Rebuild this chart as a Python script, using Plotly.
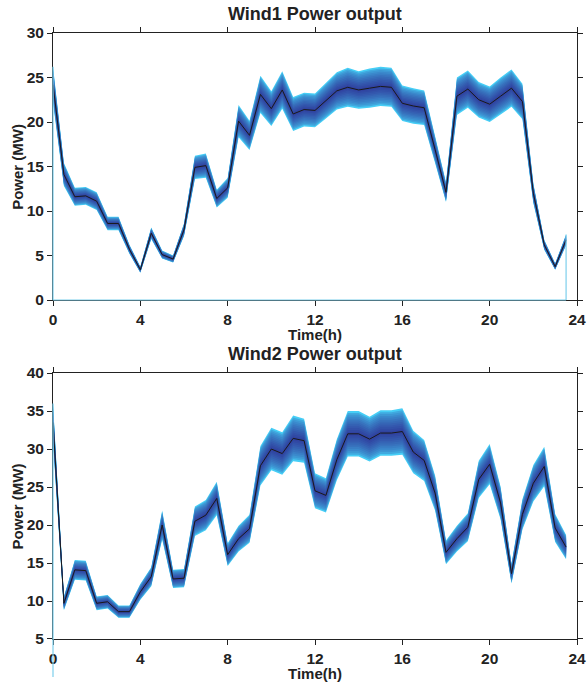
import plotly.graph_objects as go

# ---------------- data ----------------
time_h = [i * 0.5 for i in range(48)]  # 0 .. 23.5 h, half-hour steps

wind1_power = [24.2, 14.1, 11.6, 11.7, 11.1, 8.6, 8.6, 5.7, 3.4, 7.5, 5.1, 4.6,
               7.9, 14.9, 15.1, 11.4, 12.6, 20.1, 18.5, 23.1, 21.5, 23.6, 20.9, 21.4,
               21.3, 22.4, 23.5, 23.9, 23.6, 23.8, 24.0, 23.9, 22.1, 21.8, 21.6, 16.9,
               12.1, 22.9, 23.7, 22.5, 22.0, 22.9, 23.8, 22.3, 12.0, 6.2, 3.75, 6.75]
wind1_spread = [2.0, 1.3, 1.0, 1.0, 1.0, 0.75, 0.75, 0.5, 0.35, 0.65, 0.45, 0.4,
                0.7, 1.3, 1.35, 1.0, 1.1, 1.8, 1.65, 2.1, 1.95, 2.1, 1.9, 1.9,
                1.9, 2.0, 2.1, 2.2, 2.1, 2.2, 2.2, 2.2, 2.0, 2.0, 1.95, 1.5,
                1.1, 2.1, 2.1, 2.0, 2.0, 2.1, 2.1, 2.0, 1.1, 0.55, 0.35, 0.6]

wind2_power = [33.5, 9.7, 14.1, 14.0, 9.7, 9.9, 8.6, 8.6, 11.2, 13.2, 20.0, 12.9,
               13.0, 20.5, 21.3, 23.5, 16.1, 18.2, 19.5, 27.8, 30.0, 29.4, 31.4, 31.1,
               24.5, 23.9, 28.6, 32.0, 32.0, 31.3, 32.1, 32.1, 32.3, 29.6, 28.5, 24.2,
               16.4, 18.2, 19.7, 26.0, 28.0, 22.9, 13.6, 21.4, 25.5, 27.7, 19.6, 17.1]
wind2_spread = [2.5, 0.9, 1.3, 1.3, 0.9, 0.9, 0.8, 0.8, 1.05, 1.25, 1.9, 1.2,
                1.2, 1.95, 2.0, 2.2, 1.5, 1.7, 1.85, 2.6, 2.8, 2.8, 3.0, 2.9,
                2.3, 2.25, 2.7, 3.0, 3.0, 2.95, 3.0, 3.0, 3.05, 2.8, 2.7, 2.3,
                1.55, 1.7, 1.85, 2.45, 2.65, 2.15, 1.3, 2.0, 2.4, 2.6, 1.85, 1.6]

x_ticks = [0, 4, 8, 12, 16, 20, 24]
wind1_yticks = [0, 5, 10, 15, 20, 25, 30]
wind2_yticks = [5, 10, 15, 20, 25, 30, 35, 40]
titles = ["Wind1 Power output", "Wind2 Power output"]
x_label = "Time(h)"
y_label = "Power (MW)"

# ---------------- style ----------------
FONT = "Liberation Sans"
TXT = "#222222"
EDGE = "#7ccfec"
N_LAYERS = 12
OUTER = (70, 206, 246)
INNER = (48, 66, 160)


def layer_color(k):
    t = (k / (N_LAYERS - 1)) ** 0.55
    c = [round(OUTER[j] + (INNER[j] - OUTER[j]) * t) for j in range(3)]
    return f"rgb({c[0]},{c[1]},{c[2]})"


fig = go.Figure()


def add_fan(values, spread, xa, ya):
    for k in range(N_LAYERS):
        f = 1.0 - k / N_LAYERS
        upper = [v + f * s for v, s in zip(values, spread)]
        lower = [v - f * s for v, s in zip(values, spread)]
        fig.add_trace(go.Scatter(
            x=time_h + time_h[::-1], y=upper + lower[::-1],
            fill="toself", fillcolor=layer_color(k), mode="lines",
            line=dict(width=0), hoverinfo="skip", showlegend=False,
            xaxis=xa, yaxis=ya))
    fig.add_trace(go.Scatter(
        x=time_h, y=values, mode="lines",
        line=dict(color="#1a1a1a", width=1.0), showlegend=False,
        xaxis=xa, yaxis=ya))


add_fan(wind1_power, wind1_spread, "x", "y")
add_fan(wind2_power, wind2_spread, "x2", "y2")

# fill-edge artefacts (light blue outlines of the fan patch down to zero)
x_max = x_ticks[-1]
up1_first = wind1_power[0] + wind1_spread[0]
up1_last = wind1_power[-1] + wind1_spread[-1]
y1min, y1max = wind1_yticks[0], wind1_yticks[-1]
y2min, y2max = wind2_yticks[0], wind2_yticks[-1]
up2_first = wind2_power[0] + wind2_spread[0]


def dom(v, lo, hi):
    return (v - lo) / (hi - lo)


shapes = [
    dict(type="line", xref="x domain", yref="y domain", x0=0, x1=0,
         y0=dom(0, y1min, y1max), y1=dom(up1_first, y1min, y1max)),
    dict(type="line", xref="x domain", yref="y domain", x0=0, x1=time_h[-1] / x_max,
         y0=0, y1=0),
    dict(type="line", xref="x domain", yref="y domain",
         x0=time_h[-1] / x_max, x1=time_h[-1] / x_max,
         y0=0, y1=dom(up1_last, y1min, y1max)),
    dict(type="line", xref="x2 domain", yref="y2 domain", x0=0, x1=0,
         y0=dom(0, y2min, y2max), y1=dom(up2_first, y2min, y2max)),
]
for s in shapes:
    s["line"] = dict(color=EDGE, width=1.2)
    s["layer"] = "above"

axis_common = dict(
    showline=True, linecolor=TXT, linewidth=1, mirror="ticks",
    ticks="outside", ticklen=5, tickwidth=1, tickcolor=TXT,
    showgrid=False, zeroline=False, automargin=False,
    tickfont=dict(family=FONT, size=15.5, color=TXT, weight="bold"),
)
label_font = dict(family=FONT, size=15, color=TXT, weight="bold")
title_font = dict(family=FONT, size=18, color=TXT, weight="bold")

TOP_DOM = [0.5594, 1.0]
BOT_DOM = [0.0, 0.4389]

annotations = [
    dict(text=titles[0], x=0.5, y=1.031, font=title_font),
    dict(text=titles[1], x=0.5, y=0.471, font=title_font),
    dict(text=x_label, x=0.5, y=0.503, font=label_font),
    dict(text=x_label, x=0.5, y=-0.057, font=label_font),
    dict(text=y_label, x=-0.068, y=sum(TOP_DOM) / 2, textangle=-90, font=label_font),
    dict(text=y_label, x=-0.068, y=sum(BOT_DOM) / 2, textangle=-90, font=label_font),
]
for a in annotations:
    a.update(xref="paper", yref="paper", xanchor="center", yanchor="middle",
             showarrow=False)

fig.update_layout(
    width=588, height=686,
    margin=dict(l=53, r=11, t=33, b=47),
    paper_bgcolor="white", plot_bgcolor="white",
    showlegend=False,
    shapes=shapes,
    annotations=annotations,
    xaxis=dict(domain=[0, 1], anchor="y", range=[x_ticks[0], x_ticks[-1]],
               tickvals=x_ticks, **axis_common),
    yaxis=dict(domain=TOP_DOM, anchor="x", range=[y1min, y1max],
               tickvals=wind1_yticks, **axis_common),
    xaxis2=dict(domain=[0, 1], anchor="y2", range=[x_ticks[0], x_ticks[-1]],
                tickvals=x_ticks, **axis_common),
    yaxis2=dict(domain=BOT_DOM, anchor="x2", range=[y2min, y2max],
                tickvals=wind2_yticks, **axis_common),
)

fig.write_html(
    "out.html",
    config={"displayModeBar": False},
    post_script="document.body.style.margin='0px';document.body.style.overflow='hidden';",
)
